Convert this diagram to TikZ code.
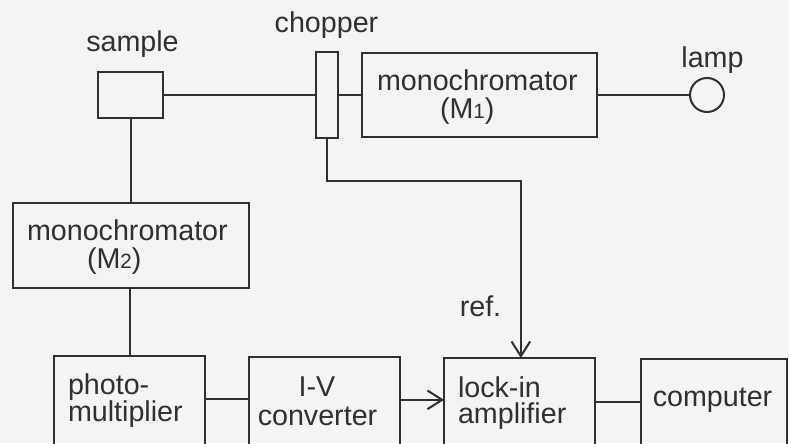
\documentclass[tikz,border=0pt]{standalone}
\usepackage{fontspec}
\setmainfont{Liberation Sans}
\usetikzlibrary{arrows.meta,fit}
\definecolor{bg}{HTML}{F4F4F2}
\definecolor{ink}{HTML}{303030}
\newcommand{\subnum}[1]{{\fontsize{15.5}{15.5}\selectfont #1}}
\begin{document}
\begin{tikzpicture}[x=0.75pt,y=-0.75pt,
  box/.style={draw=ink, line width=1.5pt, inner sep=0pt, outer sep=0pt, rectangle},
  wire/.style={draw=ink, line width=1.5pt},
  arr/.style={wire, -{Straight Barb[length=11pt,width=14pt,line width=1.5pt]}},
  txt/.style={inner sep=0pt, outer sep=0pt, text=ink, font=\fontsize{21.5}{21.5}\selectfont, anchor=base},
  txtl/.style={txt, anchor=base west}]
\useasboundingbox (0,0) rectangle (789,443);
\fill[bg] (0,0) rectangle (789,443);
\clip (0,0) rectangle (789,443);

% boxes
\node[box, fit={(98,72)(163,118)}] (sample) {};
\node[box, fit={(316,52)(338,138)}] (chopper) {};
\node[box, fit={(362,53)(597,137)}] (M1) {};
\node[draw=ink, circle, line width=1.5pt, minimum size=25.5pt, inner sep=0pt, outer sep=0pt] (lamp) at (707,95) {};
\node[box, fit={(13,203)(249,288)}] (M2) {};
\node[box, fit={(54,356)(205,448)}] (PM) {};
\node[box, fit={(249,357)(400,448)}] (IV) {};
\node[box, fit={(444,358)(595,448)}] (LI) {};
\node[box, fit={(641,359)(787,448)}] (CO) {};

% texts
\node[txt] (tsample) at (132.5,51) {sample};
\node[txt] (tchopper) at (326.5,32) {chopper};
\node[txt] (tlamp) at (712.5,67) {lamp};
\node[txtl] (tm1a) at (377,90) {monochromator};
\node[txtl] (tm1b) at (440,118) {(M\subnum{1})};
\node[txtl] (tm2a) at (27,240) {monochromator};
\node[txtl] (tm2b) at (87,268) {(M\subnum{2})};
\node[txtl] (tpma) at (68,394) {photo-};
\node[txtl] (tpmb) at (68,421) {multiplier};
\node[txt] (tiva) at (317,396) {I-V};
\node[txt] (tivb) at (317.5,425) {converter};
\node[txtl] (tlia) at (458,397) {lock-in};
\node[txtl] (tlib) at (458,423) {amplifier};
\node[txt] (tco) at (712.5,406) {computer};
\node[txt] (tref) at (480.5,316) {ref.};

% connectors
\draw[wire] (sample.east) -- (chopper.west);
\draw[wire] (chopper.east) -- (M1.west);
\draw[wire] (M1.east) -- (lamp.west);
\draw[wire] (sample.south) -- (sample.south |- M2.north);
\draw[wire] (PM.north |- M2.south) -- (PM.north);
\draw[wire] ([yshift=2.5pt]PM.east) -- ([yshift=2.5pt]PM.east -| IV.west);
\draw[arr] ([yshift=2pt]IV.east) -- ([yshift=2pt]IV.east -| LI.west);
\draw[wire] ([yshift=1pt]LI.east) -- ([yshift=1pt]LI.east -| CO.west);
\coordinate (turn) at (327,181);
\draw[arr] (chopper.south) -- (turn) -| ([xshift=1pt]LI.north);
\end{tikzpicture}
\end{document}
